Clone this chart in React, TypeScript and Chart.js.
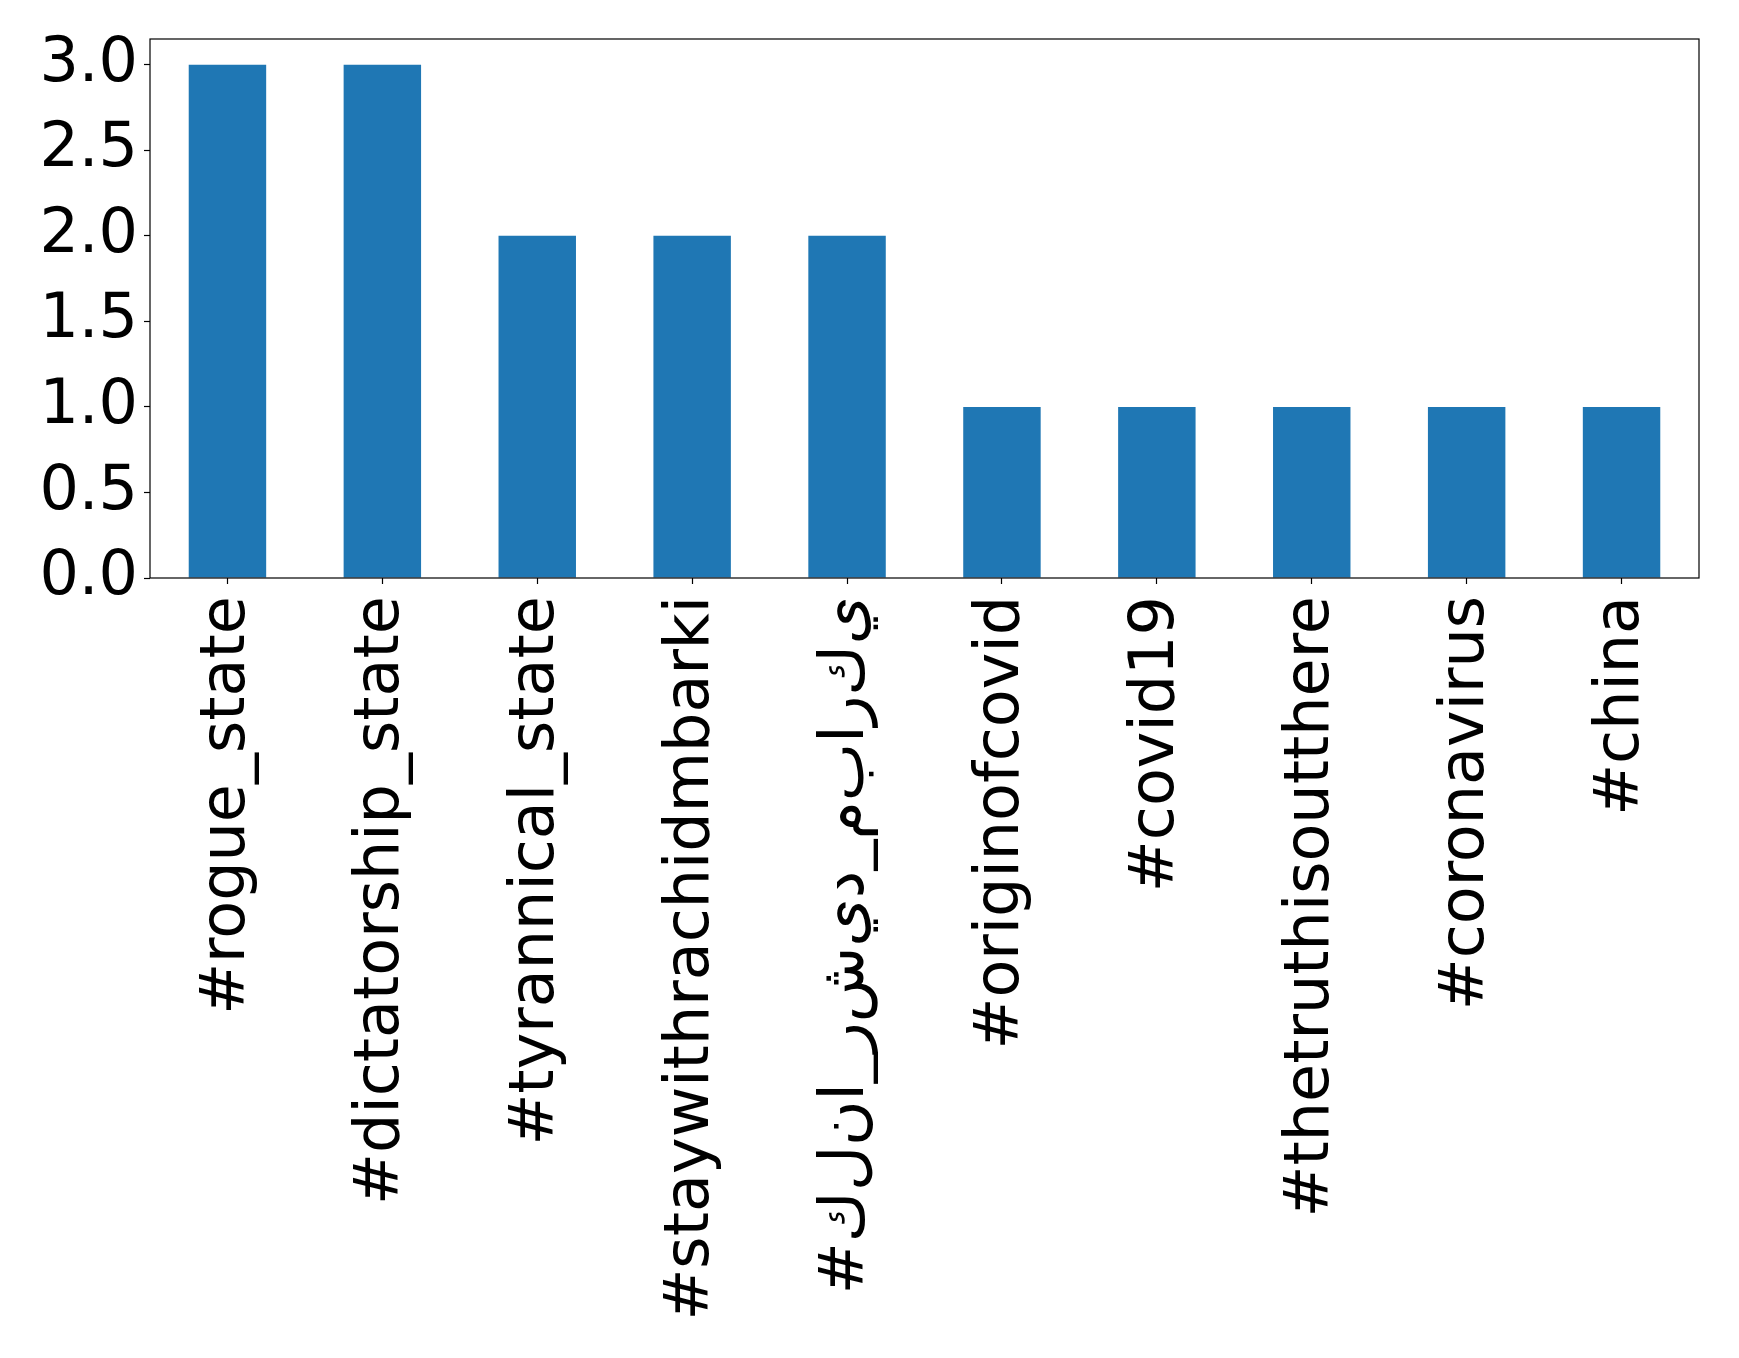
import React, { useEffect, useRef } from "react";
import { Chart, registerables } from "chart.js";

Chart.register(...registerables);

const categories: string[] = [
  "#rogue_state",
  "#dictatorship_state",
  "#tyrannical_state",
  "#staywithrachidmbarki",
  "#كلنا_رشيد_مباركي",
  "#originofcovid",
  "#covid19",
  "#thetruthisoutthere",
  "#coronavirus",
  "#china",
];
const counts: number[] = [3, 3, 2, 2, 2, 1, 1, 1, 1, 1];
const yTickValues: number[] = [0, 0.5, 1, 1.5, 2, 2.5, 3];

const W = 1739;
const H = 1358;
const FONT = "'DejaVu Sans', sans-serif";
const FS = 62;

// Render like matplotlib: logical order left-to-right, unjoined letters.
function displayLabel(s: string): string {
  if (!/[\u0600-\u06FF]/.test(s)) return s;
  return "\u202D" + Array.from(s).join("\u200C") + "\u202C";
}

const boxPlugin = {
  id: "box",
  afterDraw(chart: any) {
    const { ctx, chartArea } = chart;
    ctx.save();
    ctx.strokeStyle = "#000";
    ctx.lineWidth = 1.2;
    ctx.strokeRect(chartArea.left, chartArea.top, chartArea.right - chartArea.left, chartArea.bottom - chartArea.top);
    ctx.restore();
  },
};

export default function App() {
  const ref = useRef<HTMLCanvasElement | null>(null);
  useEffect(() => {
    document.body.style.margin = "0";
    const chart = new Chart(ref.current as HTMLCanvasElement, {
      type: "bar",
      data: {
        labels: categories,
        datasets: [
          {
            data: counts,
            backgroundColor: "#1f77b4",
            categoryPercentage: 1,
            barPercentage: 0.5,
          },
        ],
      },
      options: {
        responsive: false,
        animation: false,
        layout: { padding: { top: 39, right: 40, left: 0, bottom: 0 } },
        plugins: { legend: { display: false }, tooltip: { enabled: false } },
        scales: {
          x: {
            grid: { display: true, drawOnChartArea: false, offset: false, tickLength: 6, color: "#000", tickColor: "#000", tickWidth: 1.2 },
            border: { display: false },
            ticks: {
              color: "#000",
              font: { family: FONT, size: FS },
              minRotation: 90,
              maxRotation: 90,
              autoSkip: false,
              padding: 12,
              callback: (_v: any, i: number) => displayLabel(categories[i]),
            },
            afterFit(scale: any) {
              scale.height = H - 578;
            },
          },
          y: {
            min: 0,
            max: 3.15,
            grid: { display: true, drawOnChartArea: false, tickLength: 6, color: "#000", tickColor: "#000", tickWidth: 1.2 },
            border: { display: false },
            ticks: {
              color: "#000",
              font: { family: FONT, size: FS, lineHeight: 0.9 },
              stepSize: 0.5,
              padding: 6,
              callback: (v: any) => Number(v).toFixed(1),
            },
            afterBuildTicks(scale: any) {
              scale.ticks = yTickValues.map((v) => ({ value: v }));
            },
            afterFit(scale: any) {
              scale.width = 150;
              scale.paddingTop = 0;
              scale.paddingBottom = 0;
            },
          },
        },
      },
      plugins: [boxPlugin],
    });
    return () => chart.destroy();
  }, []);
  return (
    <div style={{ width: W, height: H, background: "#fff" }}>
      <canvas ref={ref} width={W} height={H} style={{ display: "block" }} />
    </div>
  );
}
